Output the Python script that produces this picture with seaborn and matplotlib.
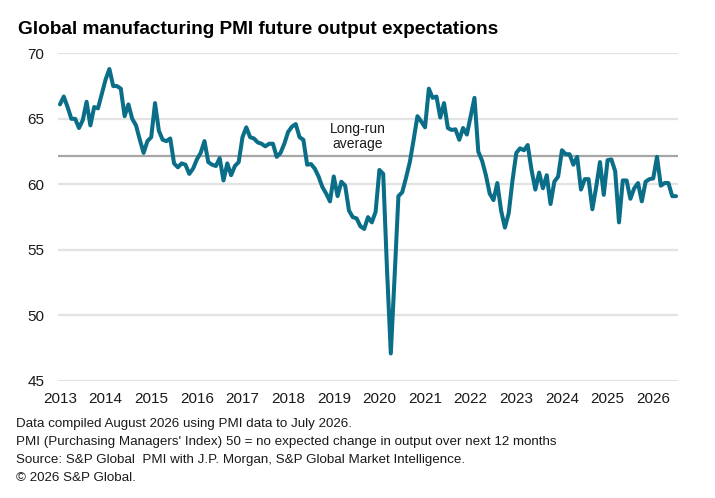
import numpy as np
import pandas as pd
import seaborn as sns
import matplotlib.pyplot as plt

# monthly readings, Jan 2013 .. Jul 2026
pmi_2013 = [66.1, 66.7, 65.9, 65.0, 65.0, 64.3, 64.9, 66.3, 64.5, 65.9, 65.8, 66.9]
pmi_2014 = [68.0, 68.8, 67.5, 67.5, 67.3, 65.2, 66.1, 65.0, 64.5, 63.4, 62.4, 63.3]
pmi_2015 = [63.6, 66.2, 64.1, 63.4, 63.3, 63.5, 61.6, 61.3, 61.6, 61.5, 60.8, 61.2]
pmi_2016 = [61.9, 62.4, 63.3, 61.7, 61.5, 61.4, 62.0, 60.3, 61.6, 60.7, 61.4, 61.7]
pmi_2017 = [63.6, 64.35, 63.6, 63.5, 63.2, 63.1, 62.9, 63.1, 63.1, 62.1, 62.4, 63.1]
pmi_2018 = [64.0, 64.4, 64.6, 63.6, 63.4, 61.5, 61.55, 61.2, 60.6, 59.8, 59.3, 58.7]
pmi_2019 = [60.6, 59.1, 60.2, 59.9, 58.0, 57.5, 57.4, 56.8, 56.6, 57.5, 57.1, 57.9]
pmi_2020 = [61.1, 60.8, 53.5, 47.1, 53.0, 59.1, 59.4, 60.5, 61.7, 63.4, 65.2, 64.8]
pmi_2021 = [64.35, 67.3, 66.6, 66.7, 65.1, 66.2, 64.3, 64.15, 64.2, 63.4, 64.3, 63.8]
pmi_2022 = [65.2, 66.6, 62.5, 61.8, 60.7, 59.3, 58.8, 60.1, 58.0, 56.7, 57.8, 60.3]
pmi_2023 = [62.4, 62.75, 62.6, 63.0, 61.1, 59.6, 60.9, 59.7, 60.7, 58.5, 60.2, 60.6]
pmi_2024 = [62.6, 62.3, 62.3, 61.5, 62.1, 59.6, 60.4, 60.4, 58.1, 59.8, 61.7, 59.2]
pmi_2025 = [61.85, 61.9, 61.0, 57.1, 60.3, 60.3, 58.9, 59.7, 60.1, 58.7, 60.2, 60.4]
pmi_2026 = [60.45, 62.1, 59.9, 60.1, 60.1, 59.1, 59.1]

long_run_avg = 62.2
years = list(range(2013, 2027))
title = "Global manufacturing PMI future output expectations"
notes = [
    "Data compiled August 2026 using PMI data to July 2026.",
    "PMI (Purchasing Managers' Index) 50 = no expected change in output over next 12 months",
    "Source: S&P Global  PMI with J.P. Morgan, S&P Global Market Intelligence.",
    "\u00a9 2026 S&P Global.",
]

values = (pmi_2013 + pmi_2014 + pmi_2015 + pmi_2016 + pmi_2017 + pmi_2018 + pmi_2019
          + pmi_2020 + pmi_2021 + pmi_2022 + pmi_2023 + pmi_2024 + pmi_2025 + pmi_2026)
df = pd.DataFrame({"t": 2013 + np.arange(len(values)) / 12, "pmi": values})

sns.set_style("white")
plt.rcParams["font.family"] = ["Liberation Sans", "DejaVu Sans"]

fig = plt.figure(figsize=(7.15, 4.98), dpi=100)
ax = fig.add_axes([0.0815, 0.235, 0.867, 0.658])

for v in [45, 50, 55, 60, 65, 70]:
    ax.axhline(v, color="#e3e3e3", lw=1.6, zorder=0)
ax.axhline(long_run_avg, color="#a6a6a6", lw=1.6, zorder=1)

sns.lineplot(data=df, x="t", y="pmi", ax=ax, color="#0a6e88", lw=2.9, zorder=3)

ax.text(2019.52, 62.55, "Long-run\naverage", ha="center", va="bottom",
        fontsize=10, color="#1a1a1a", linespacing=1.1)

ax.set_xlim(2012.963, 2026.547)
ax.set_ylim(45, 70)
ax.set_xticks(years)
ax.set_xticklabels([str(y) for y in years])
ax.set_yticks([45, 50, 55, 60, 65, 70])
ax.tick_params(axis="both", length=0, labelsize=11, colors="#1a1a1a")
ax.tick_params(axis="y", pad=10)
ax.tick_params(axis="x", pad=8)
ax.set_xlabel("")
ax.set_ylabel("")
for s in ax.spines.values():
    s.set_visible(False)

fig.text(0.025, 1 - 29 / 498, title, fontsize=13.7, fontweight="bold", color="#000000", va="center")
for k, line in enumerate(notes):
    fig.text(0.023, 1 - (423.5 + k * 18) / 498, line, fontsize=9.6, color="#1a1a1a", va="center")

fig.savefig("out.png", dpi=100)
